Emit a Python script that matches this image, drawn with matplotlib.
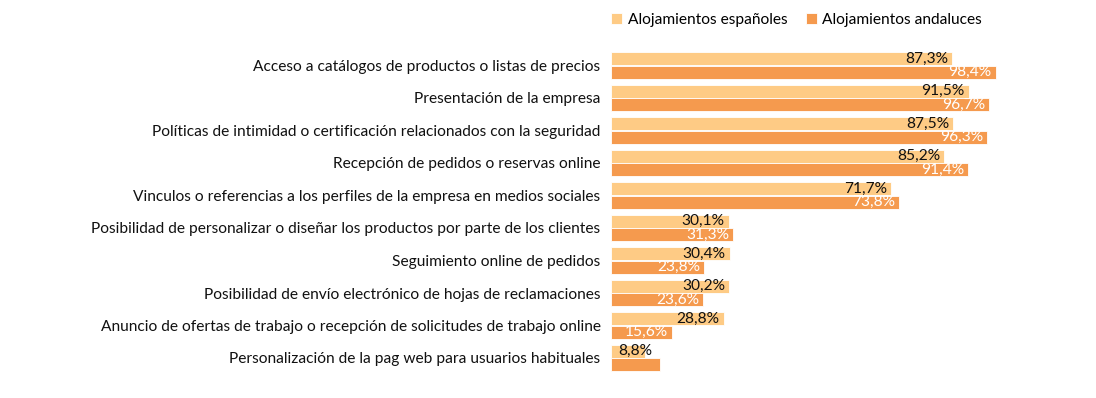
import matplotlib
matplotlib.use("Agg")
import matplotlib.pyplot as plt
import numpy as np

categorias = [
    "Acceso a catálogos de productos o listas de precios",
    "Presentación de la empresa",
    "Políticas de intimidad o certificación relacionados con la seguridad",
    "Recepción de pedidos o reservas online",
    "Vinculos o referencias a los perfiles de la empresa en medios sociales",
    "Posibilidad de personalizar o diseñar los productos por parte de los clientes",
    "Seguimiento online de pedidos",
    "Posibilidad de envío electrónico de hojas de reclamaciones",
    "Anuncio de ofertas de trabajo o recepción de solicitudes de trabajo online",
    "Personalización de la pag web para usuarios habituales",
]
espanoles = [87.3, 91.5, 87.5, 85.2, 71.7, 30.1, 30.4, 30.2, 28.8, 8.8]
andaluces = [98.4, 96.7, 96.3, 91.4, 73.8, 31.3, 23.8, 23.6, 15.6, 12.6]
etiquetas_and = ["98,4%", "96,7%", "96,3%", "91,4%", "73,8%", "31,3%", "23,8%", "23,6%", "15,6%", ""]

col_esp = "#FECB85"
col_and = "#F59A4E"

plt.rcParams["font.family"] = ["Lato", "DejaVu Sans"]
fs = 11.2

fig = plt.figure(figsize=(10.96, 3.98), dpi=100)
ax = fig.add_axes([611 / 1096, 1 - 374.25 / 398, 430 / 1096, 325 / 398])

y = np.arange(len(categorias))
h = 0.41
b1 = ax.barh(y - 0.21, espanoles, height=h, color=col_esp, edgecolor="white", linewidth=0.6,
             label="Alojamientos españoles")
b2 = ax.barh(y + 0.21, andaluces, height=h, color=col_and, edgecolor="white", linewidth=0.6,
             label="Alojamientos andaluces")

for i, v in enumerate(espanoles):
    txt = f"{v:.1f}%".replace(".", ",")
    if v < 12:
        # barra demasiado corta: etiqueta desde el inicio
        ax.annotate(txt, (0, y[i] - 0.21), xytext=(5, 0), textcoords="offset points",
                    ha="left", va="center", fontsize=fs, color="#111111")
    else:
        ax.annotate(txt, (v, y[i] - 0.21), xytext=(-3, 0), textcoords="offset points",
                    ha="right", va="center", fontsize=fs, color="#111111")
for i, v in enumerate(andaluces):
    if etiquetas_and[i]:
        ax.annotate(etiquetas_and[i], (v, y[i] + 0.21), xytext=(-3, 0),
                    textcoords="offset points", ha="right", va="center", fontsize=fs, color="white")

ax.set_xlim(0, 110)
ax.set_ylim(len(categorias) - 0.5, -0.5)
ax.set_yticks(y)
ax.set_yticklabels(categorias, fontsize=fs, color="#111111")
ax.tick_params(axis="y", length=0, pad=7.5)
ax.set_xticks([])
for s in ax.spines.values():
    s.set_visible(False)

fig.legend(handles=[b1, b2], loc="center left", bbox_to_anchor=(0.552, 0.95), ncol=2,
           frameon=False, fontsize=fs, handlelength=0.7, handleheight=0.7,
           handletextpad=0.35, columnspacing=1.2, borderaxespad=0)

fig.savefig("out.png", dpi=100)
